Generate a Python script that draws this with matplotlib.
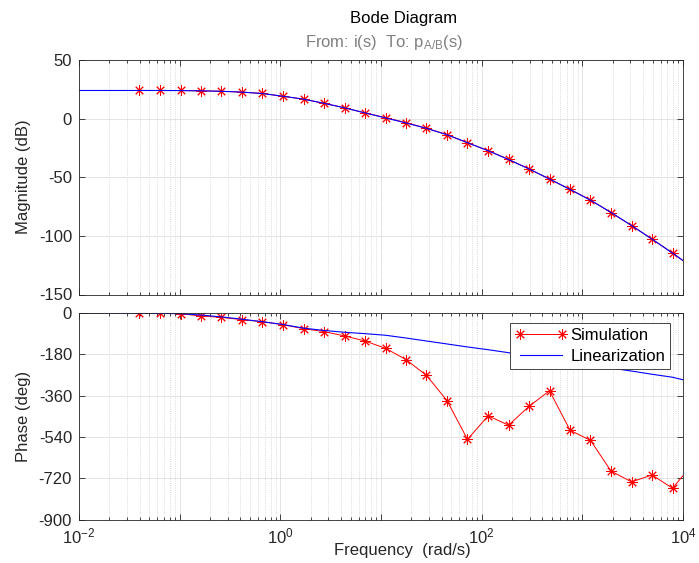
import numpy as np
import matplotlib
matplotlib.use("Agg")
import matplotlib.pyplot as plt
from matplotlib.ticker import FixedLocator, FixedFormatter, LogLocator, NullFormatter

plt.rcParams['font.family'] = ['Liberation Sans', 'DejaVu Sans']
plt.rcParams['mathtext.fontset'] = 'custom'
plt.rcParams['mathtext.rm'] = 'Liberation Sans'
plt.rcParams['mathtext.it'] = 'Liberation Sans:italic'
plt.rcParams['axes.unicode_minus'] = False

# simulation points (rad/s, dB, deg)
sim_freq = [0.0398, 0.0637, 0.102, 0.163, 0.260, 0.416, 0.664, 1.06, 1.70, 2.71,
            4.34, 6.93, 11.1, 17.7, 28.3, 45.3, 72.3, 116, 185, 295,
            472, 755, 1205, 1928, 3083, 4929, 7870, 12590]
sim_mag = [24.0, 24.0, 24.0, 23.7, 23.4, 22.6, 21.5, 19.0, 16.7, 13.0,
           9.3, 4.8, 0.85, -3.4, -8.2, -13.6, -20.7, -27.2, -34.8, -42.8,
           -51.6, -60.3, -69.4, -80.2, -91.2, -102.8, -114.7, -127.3]
sim_phase = [0, -1.5, -3, -13, -19, -29, -38, -51, -68, -81,
             -100, -122, -154, -203, -272, -382, -551, -448, -489, -407,
             -339, -511, -555, -689, -736, -706, -764, -656]

# linearized model curve
lin_freq = [0.01, 0.02, 0.0398, 0.0637, 0.102, 0.163, 0.260, 0.416, 0.664, 1.06,
            1.70, 2.71, 4.34, 6.93, 11.1, 17.7, 28.3, 45.3, 72.3, 116,
            185, 295, 472, 755, 1205, 1928, 3083, 4929, 7870, 10000]
lin_mag = [24.0, 24.0, 24.0, 24.0, 23.9, 23.7, 23.3, 22.6, 21.4, 19.1,
           16.6, 13.1, 9.2, 4.9, 0.6, -3.7, -8.3, -13.8, -20.5, -27.4,
           -34.9, -42.9, -51.5, -60.4, -69.6, -80.0, -91.2, -102.8, -114.7, -121.0]
lin_phase = [0, 0, -0.5, -1.5, -3, -9, -17, -27, -38, -50,
             -66, -76, -84, -90, -97, -109, -122, -135, -148, -160,
             -173, -187, -200, -214, -227, -240, -253, -267, -280, -291]

mag_ticks = [-150, -100, -50, 0, 50]
phase_ticks = [-900, -720, -540, -360, -180, 0]
decades = [1e-2, 1e-1, 1e0, 1e1, 1e2, 1e3, 1e4]
decade_labels = [r'$10^{-2}$', '', r'$10^{0}$', '', r'$10^{2}$', '', r'$10^{4}$']

dark = '#262626'
W, H = 699, 563
fig = plt.figure(figsize=(W / 100, H / 100), dpi=100)
ax1 = fig.add_axes([79 / W, 1 - 294.5 / H, 604 / W, 234.5 / H])
ax2 = fig.add_axes([79 / W, 1 - 519.5 / H, 604 / W, 206.5 / H])

ast = (8, 2, 0)
ax1.plot(sim_freq, sim_mag, color='red', lw=0.7, marker=ast, ms=7.5, mew=0.7)
ax1.plot(lin_freq, lin_mag, color='blue', lw=0.8)
ax2.plot(sim_freq, sim_phase, color='red', lw=0.7, marker=ast, ms=7.5, mew=0.7, label='Simulation')
ax2.plot(lin_freq, lin_phase, color='blue', lw=0.8, label='Linearization')

for ax in (ax1, ax2):
    ax.set_xscale('log')
    ax.set_xlim(1e-2, 1e4)
    ax.xaxis.set_major_locator(FixedLocator(decades))
    ax.xaxis.set_minor_locator(LogLocator(base=10, subs=np.arange(2, 10), numticks=20))
    ax.xaxis.set_minor_formatter(NullFormatter())
    ax.tick_params(which='both', direction='in', top=True, right=True, color=dark,
                   labelcolor=dark, labelsize=12, width=0.6)
    ax.tick_params(which='major', length=4)
    ax.tick_params(which='minor', length=2.5)
    ax.tick_params(axis='y', pad=5)
    ax.grid(True, which='major', color='#dedede', lw=0.6, ls='-')
    ax.grid(True, which='minor', axis='x', color='#c4c4c4', lw=0.5, ls=':')
    ax.set_axisbelow(True)
    for s in ax.spines.values():
        s.set_color(dark)
        s.set_linewidth(0.6)

ax1.set_ylim(-150, 50)
ax1.set_yticks(mag_ticks)
ax1.tick_params(axis='x', labelbottom=False)

ax2.set_ylim(-900, 0)
ax2.set_yticks(phase_ticks)
ax2.xaxis.set_major_formatter(FixedFormatter(decade_labels))
ax2.tick_params(axis='x', pad=5)

leg = ax2.legend(loc='upper right', bbox_to_anchor=(670 / W, 1 - 323 / H),
                 bbox_transform=fig.transFigure, borderaxespad=0, fontsize=12,
                 numpoints=2, handlelength=3.1, handletextpad=0.2, borderpad=0.3,
                 labelspacing=0.35, fancybox=False, framealpha=1, edgecolor=dark)
leg.get_frame().set_linewidth(0.6)
for t in leg.get_texts():
    t.set_color('black')

fig.text(404 / W, 1 - 18 / H, 'Bode Diagram', ha='center', va='center', fontsize=12, color='black')
fig.text(384 / W, 1 - 43 / H, r'From: i(s)  To: p$_{\mathrm{A/B}}$(s)', ha='center', va='center',
         fontsize=12, color='#808080')
fig.text(23.5 / W, 1 - 177 / H, 'Magnitude (dB)', rotation=90, ha='center', va='center',
         fontsize=12, color=dark)
fig.text(23.5 / W, 1 - 416 / H, 'Phase (deg)', rotation=90, ha='center', va='center',
         fontsize=12, color=dark)
fig.text(402 / W, 1 - 551 / H, 'Frequency  (rad/s)', ha='center', va='center',
         fontsize=12, color=dark)

fig.savefig('out.png', dpi=100)
